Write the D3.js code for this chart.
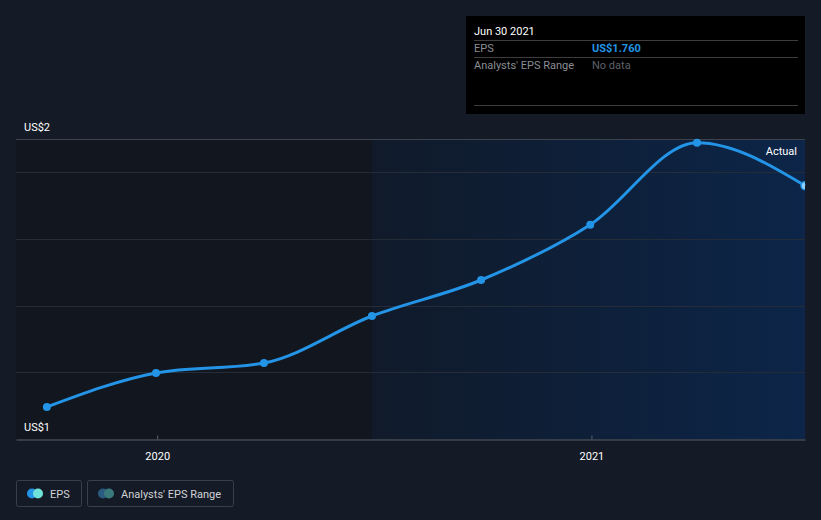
<!DOCTYPE html>
<html>
<head>
<meta charset="utf-8">
<script src="https://cdn.jsdelivr.net/npm/d3@7"></script>
<style>
  html, body { margin: 0; padding: 0; background: #151b26; }
  svg { display: block; font-family: Roboto, "Open Sans", sans-serif; }
</style>
</head>
<body>
<svg id="chart" width="821" height="520"></svg>
<script>
// ---- data ----
const dates = ["2019-09-30", "2019-12-31", "2020-03-31", "2020-06-30", "2020-09-30", "2020-12-31", "2021-03-31", "2021-06-30"];
const eps = [1.096, 1.198, 1.228, 1.369, 1.477, 1.643, 1.889, 1.760];
const yTickValues = [1.0, 1.9];
const yTickLabels = ["US$1", "US$2"];
const gridValues = [1.2, 1.4, 1.6, 1.8];
const xTickDates = ["2020-01-01", "2021-01-01"];
const xTickLabels = ["2020", "2021"];
const actualStart = "2020-06-30";
const tooltipRows = [
  { label: "EPS", value: "US$1.760" },
  { label: "Analysts' EPS Range", value: "No data" }
];
const tooltipTitle = "Jun 30 2021";
const legendItems = ["EPS", "Analysts' EPS Range"];

// ---- setup ----
const parse = d3.timeParse("%Y-%m-%d");
const svg = d3.select("#chart");
const W = 821, H = 520;
const m = { left: 16, right: 16, top: 139, bottom: 81 };
const x = d3.scaleTime()
  .domain([parse("2019-09-04"), parse("2021-06-30")])
  .range([m.left, W - m.right]);
const y = d3.scaleLinear().domain([1.0, 1.9]).range([H - m.bottom, m.top]);

svg.append("rect").attr("width", W).attr("height", H).attr("fill", "#151b26");

const defs = svg.append("defs");
const grad = defs.append("linearGradient").attr("id", "actGrad")
  .attr("x1", "0").attr("x2", "1").attr("y1", "0").attr("y2", "0");
grad.append("stop").attr("offset", "0").attr("stop-color", "#101a2a");
grad.append("stop").attr("offset", "1").attr("stop-color", "#0c2548");

// past region (darker)
svg.append("rect")
  .attr("x", x.range()[0]).attr("y", y(1.9))
  .attr("width", x(parse(actualStart)) - x.range()[0])
  .attr("height", y(1.0) - y(1.9))
  .attr("fill", "#12161e");
// actual region
svg.append("rect")
  .attr("x", x(parse(actualStart))).attr("y", y(1.9))
  .attr("width", x.range()[1] - x(parse(actualStart)))
  .attr("height", y(1.0) - y(1.9))
  .attr("fill", "url(#actGrad)");

// gridlines
svg.append("g").selectAll("line").data(gridValues).join("line")
  .attr("x1", m.left).attr("x2", W - m.right)
  .attr("y1", d => Math.round(y(d)) + 0.5).attr("y2", d => Math.round(y(d)) + 0.5)
  .attr("stroke", "#262c37").attr("stroke-width", 1);
// top line
svg.append("line")
  .attr("x1", m.left).attr("x2", W - m.right)
  .attr("y1", Math.round(y(1.9)) + 0.5).attr("y2", Math.round(y(1.9)) + 0.5)
  .attr("stroke", "#3d434e").attr("stroke-width", 1);

// y labels
svg.append("g").selectAll("text").data(yTickValues).join("text")
  .attr("x", 24)
  .attr("y", d => y(d) - 8)
  .attr("fill", "#ffffff")
  .attr("font-size", 11)
  .text((d, i) => yTickLabels[i]);

// x axis
const xAxis = d3.axisBottom(x)
  .tickValues(xTickDates.map(parse))
  .tickFormat((d, i) => xTickLabels[i])
  .tickSize(4).tickSizeOuter(0);
const gx = svg.append("g")
  .attr("transform", `translate(0,${Math.round(y(1.0)) + 0.5})`)
  .call(xAxis);
gx.select(".domain").attr("stroke", "#5b616b");
gx.selectAll(".tick line").attr("stroke", "#5b616b").attr("transform", "translate(0,-4)");
gx.selectAll(".tick text").attr("fill", "#ffffff").attr("font-size", 11)
  .attr("font-family", "Roboto, sans-serif").attr("dy", "1.2em");

// line
const pts = dates.map((d, i) => ({ date: parse(d), v: eps[i] }));
const line = d3.line().x(d => x(d.date)).y(d => y(d.v)).curve(d3.curveMonotoneX);
svg.append("path").datum(pts)
  .attr("d", line)
  .attr("fill", "none").attr("stroke", "#2394e6").attr("stroke-width", 3);

svg.append("g").selectAll("circle").data(pts.slice(0, -1)).join("circle")
  .attr("cx", d => x(d.date)).attr("cy", d => y(d.v)).attr("r", 4)
  .attr("fill", "#2394e6");
// highlighted last point (clipped at the edge)
defs.append("clipPath").attr("id", "plotClip").append("rect")
  .attr("x", m.left).attr("y", 0).attr("width", W - m.left - m.right).attr("height", H);
const last = pts[pts.length - 1];
svg.append("circle").attr("clip-path", "url(#plotClip)")
  .attr("cx", x(last.date)).attr("cy", y(last.v)).attr("r", 4)
  .attr("fill", "#8fd0ff").attr("stroke", "#2394e6").attr("stroke-width", 1.5);

// Actual label
svg.append("text")
  .attr("x", 797).attr("y", y(1.9) + 16)
  .attr("text-anchor", "end").attr("fill", "#ffffff").attr("font-size", 11)
  .text("Actual");

// tooltip
const tt = svg.append("g").attr("transform", "translate(466,16)");
tt.append("rect").attr("width", 339).attr("height", 98).attr("fill", "#000000");
tt.append("text").attr("x", 8).attr("y", 19).attr("fill", "#ffffff")
  .attr("font-size", 11).text(tooltipTitle);
const rowYs = [24, 41];
tt.selectAll("line.sep").data([24, 41, 89]).join("line")
  .attr("x1", 8).attr("x2", 332)
  .attr("y1", d => d + 0.5).attr("y2", d => d + 0.5)
  .attr("stroke", "#3d3d3d");
tooltipRows.forEach((r, i) => {
  tt.append("text").attr("x", 8).attr("y", rowYs[i] + 12).attr("fill", "#8a8d93")
    .attr("font-size", 11).text(r.label);
  tt.append("text").attr("x", 126).attr("y", rowYs[i] + 12)
    .attr("fill", i === 0 ? "#2394e6" : "#5d6067")
    .attr("font-size", 11).attr("font-weight", i === 0 ? "bold" : "normal")
    .text(r.value);
});

// legend
const lg = svg.append("g");
const legendBoxes = [{ x: 16, w: 65 }, { x: 87, w: 146 }];
const legendColors = [["#2394e6", "#6fe3d9"], ["#2a5a80", "#3a7a7c"]];
legendItems.forEach((t, i) => {
  const b = legendBoxes[i];
  const g = lg.append("g").attr("transform", `translate(${b.x},480)`);
  g.append("rect").attr("x", 0.5).attr("y", 0.5).attr("width", b.w).attr("height", 26)
    .attr("rx", 2).attr("fill", "none").attr("stroke", "#3a404a");
  g.append("circle").attr("cx", 16).attr("cy", 13.5).attr("r", 5).attr("fill", legendColors[i][0]);
  g.append("circle").attr("cx", 22).attr("cy", 13.5).attr("r", 5).attr("fill", legendColors[i][1]);
  g.append("text").attr("x", 34).attr("y", 17.5).attr("fill", "#d0d2d6")
    .attr("font-size", 11).text(t);
});
</script>
</body>
</html>
